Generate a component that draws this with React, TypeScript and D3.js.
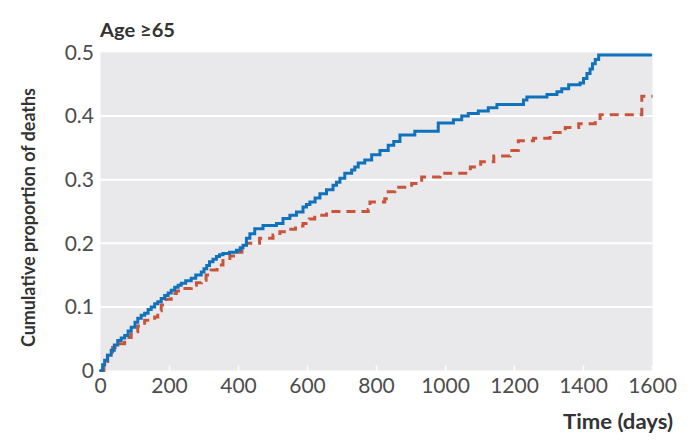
import React from "react";
import * as d3 from "d3";

const xTicks = [0, 200, 400, 600, 800, 1000, 1200, 1400, 1600];
const yTicks = [0, 0.1, 0.2, 0.3, 0.4, 0.5];
const yTickLabels = ["0", "0.1", "0.2", "0.3", "0.4", "0.5"];

const blueTime = [0, 6, 12, 20, 31, 40, 50, 60, 70, 80, 89, 100, 108, 118, 128, 138, 147, 157, 166, 176, 186, 196, 205, 215, 225, 234, 247, 263, 276, 292, 300, 308, 316, 326, 336, 345, 355, 374, 394, 405, 413, 423, 433, 447, 471, 510, 529, 549, 568, 587, 597, 607, 622, 636, 655, 674, 684, 694, 708, 728, 737, 747, 766, 786, 810, 834, 850, 868, 911, 979, 1023, 1047, 1066, 1095, 1124, 1149, 1226, 1236, 1294, 1323, 1337, 1357, 1390, 1400, 1410, 1419, 1426, 1434, 1444, 1595];
const blueValue = [0, 0.009, 0.016, 0.024, 0.032, 0.04, 0.047, 0.051, 0.055, 0.062, 0.068, 0.076, 0.082, 0.087, 0.09, 0.096, 0.1, 0.105, 0.108, 0.113, 0.118, 0.122, 0.126, 0.131, 0.134, 0.137, 0.141, 0.145, 0.15, 0.155, 0.16, 0.165, 0.171, 0.175, 0.179, 0.182, 0.184, 0.186, 0.189, 0.193, 0.197, 0.208, 0.215, 0.223, 0.228, 0.231, 0.239, 0.244, 0.249, 0.257, 0.261, 0.265, 0.271, 0.278, 0.284, 0.291, 0.296, 0.302, 0.31, 0.315, 0.32, 0.326, 0.331, 0.339, 0.346, 0.354, 0.36, 0.37, 0.376, 0.389, 0.394, 0.4, 0.404, 0.408, 0.413, 0.418, 0.425, 0.43, 0.434, 0.438, 0.443, 0.449, 0.452, 0.459, 0.467, 0.474, 0.482, 0.489, 0.496, 0.496];

const redTime = [0, 10, 21, 35, 50, 70, 89, 108, 128, 157, 166, 176, 190, 205, 220, 234, 263, 278, 292, 306, 321, 338, 355, 375, 394, 410, 423, 461, 500, 520, 539, 565, 587, 605, 621, 655, 776, 781, 824, 834, 853, 902, 931, 984, 1072, 1102, 1140, 1187, 1211, 1255, 1303, 1347, 1386, 1434, 1448, 1569, 1600];
const redValue = [0, 0.014, 0.029, 0.036, 0.042, 0.052, 0.061, 0.07, 0.079, 0.084, 0.094, 0.103, 0.112, 0.121, 0.125, 0.129, 0.134, 0.138, 0.142, 0.15, 0.158, 0.166, 0.173, 0.18, 0.186, 0.193, 0.2, 0.208, 0.213, 0.218, 0.222, 0.227, 0.231, 0.238, 0.244, 0.25, 0.253, 0.265, 0.27, 0.281, 0.288, 0.294, 0.304, 0.31, 0.32, 0.328, 0.337, 0.346, 0.361, 0.365, 0.374, 0.382, 0.388, 0.396, 0.402, 0.431, 0.431];

const W = 700;
const H = 442;
const left = 100.5;
const right = 652.5;
const top = 52.4;
const bottom = 370.5;

export default function App() {
  const x = d3.scaleLinear().domain([0, 1600]).range([left, right]);
  const y = d3.scaleLinear().domain([0, 0.5]).range([bottom, top]);
  const line = d3
    .line<[number, number]>()
    .x((d) => x(d[0]))
    .y((d) => y(d[1]))
    .curve(d3.curveStepAfter);
  const blue = line(blueTime.map((t, i) => [t, blueValue[i]]) as [number, number][]) || "";
  const red = line(redTime.map((t, i) => [t, redValue[i]]) as [number, number][]) || "";
  const font = "Lato, 'Noto Sans', sans-serif";
  return (
    <svg
      width={W}
      height={H}
      style={{ position: "absolute", left: 0, top: 0, background: "#fff" }}
      fontFamily={font}
    >
      <rect x={left} y={top} width={right - left} height={bottom - top} fill="#e9e9ec" />
      {yTicks.slice(1, -1).map((v) => (
        <line key={v} x1={left} x2={right} y1={y(v)} y2={y(v)} stroke="#fff" strokeWidth={2} />
      ))}
      {xTicks.map((t) => (
        <line key={t} x1={x(t)} x2={x(t)} y1={bottom} y2={bottom - 5} stroke="#fff" strokeWidth={1.5} />
      ))}
      <path d={red} fill="none" stroke="#c9543a" strokeWidth={3} strokeDasharray="9,6" />
      <path d={blue} fill="none" stroke="#1172bb" strokeWidth={3} strokeLinecap="round" />
      {yTicks.map((v, i) => (
        <text key={v} x={94} y={y(v)} dy="0.35em" textAnchor="end" fontSize={21} fill="#4d4d4d">
          {yTickLabels[i]}
        </text>
      ))}
      {xTicks.map((t) => (
        <text key={t} x={x(t)} y={393} textAnchor="middle" fontSize={21} fill="#4d4d4d">
          {t}
        </text>
      ))}
      <text x={100} y={37} fontSize={18} fontWeight="bold" fill="#333" textLength={75} lengthAdjust="spacingAndGlyphs">
        Age ≥65
      </text>
      <text x={563} y={429} fontSize={20} fontWeight="bold" fill="#333" textLength={110} lengthAdjust="spacingAndGlyphs">
        Time (days)
      </text>
      <text
        transform={`translate(35,${(88 + 347) / 2}) rotate(-90)`}
        textAnchor="middle"
        fontSize={19}
        fontWeight="bold"
        fill="#333"
        textLength={259}
        lengthAdjust="spacingAndGlyphs"
      >
        Cumulative proportion of deaths
      </text>
    </svg>
  );
}
